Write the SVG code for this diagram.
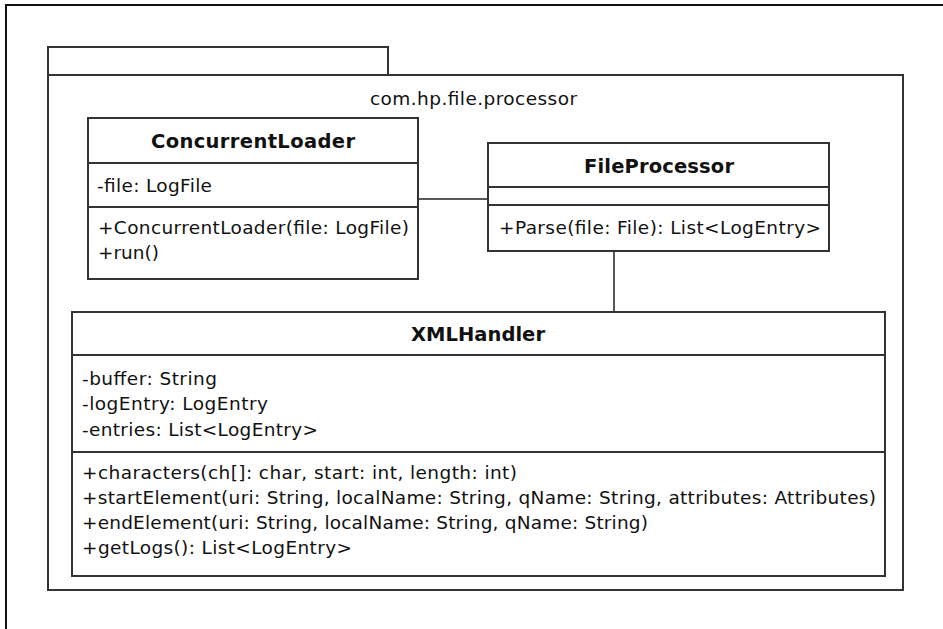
<svg xmlns="http://www.w3.org/2000/svg" width="943" height="629" viewBox="0 0 943 629">
  <style>
    .frame { fill: none; stroke: #111; stroke-width: 2; }
    .box { fill: #fff; stroke: #333; stroke-width: 2; }
    .sep { stroke: #333; stroke-width: 2; }
    .link { stroke: #222; stroke-width: 1.5; fill: none; }
    text { font-family: "DejaVu Sans", Verdana, sans-serif; font-size: 18.5px; fill: #111; }
    .title { font-weight: bold; font-size: 19.5px; }
  </style>
  <rect width="943" height="629" fill="#fff"/>
  <!-- outer frame (runs past the right and bottom edges) -->
  <rect class="frame" x="6" y="5" width="1000" height="700"/>

  <g id="package">
    <rect class="box" x="48" y="47" width="340" height="28"/>
    <rect class="box" x="48" y="75" width="855" height="515"/>
    <text x="370" y="105" textLength="207">com.hp.file.processor</text>
  </g>

  <g id="connectors">
    <line class="link" x1="418" y1="199" x2="488" y2="199"/>
    <line class="link" x1="614" y1="251" x2="614" y2="312"/>
  </g>

  <g id="ConcurrentLoader">
    <rect class="box" x="88" y="118" width="330" height="161"/>
    <line class="sep" x1="88" y1="163" x2="418" y2="163"/>
    <line class="sep" x1="88" y1="207" x2="418" y2="207"/>
    <text class="title" x="151" y="148" textLength="204">ConcurrentLoader</text>
    <text x="97" y="192" textLength="115">-file: LogFile</text>
    <text x="98" y="234" textLength="311">+ConcurrentLoader(file: LogFile)</text>
    <text x="98" y="259" textLength="61">+run()</text>
  </g>

  <g id="FileProcessor">
    <rect class="box" x="488" y="143" width="341" height="108"/>
    <line class="sep" x1="488" y1="187" x2="829" y2="187"/>
    <line class="sep" x1="488" y1="205" x2="829" y2="205"/>
    <text class="title" x="584" y="173" textLength="150">FileProcessor</text>
    <text x="499" y="234" textLength="322">+Parse(file: File): List&lt;LogEntry&gt;</text>
  </g>

  <g id="XMLHandler">
    <rect class="box" x="72" y="312" width="813" height="264"/>
    <line class="sep" x1="72" y1="355" x2="885" y2="355"/>
    <line class="sep" x1="72" y1="452" x2="885" y2="452"/>
    <text class="title" x="411" y="341" textLength="134">XMLHandler</text>
    <text x="82" y="385" textLength="135">-buffer: String</text>
    <text x="82" y="410" textLength="186">-logEntry: LogEntry</text>
    <text x="82" y="436" textLength="236">-entries: List&lt;LogEntry&gt;</text>
    <text x="82" y="479" textLength="435">+characters(ch[]: char, start: int, length: int)</text>
    <text x="82" y="504" textLength="794">+startElement(uri: String, localName: String, qName: String, attributes: Attributes)</text>
    <text x="82" y="529" textLength="566">+endElement(uri: String, localName: String, qName: String)</text>
    <text x="82" y="554" textLength="270">+getLogs(): List&lt;LogEntry&gt;</text>
  </g>
</svg>
